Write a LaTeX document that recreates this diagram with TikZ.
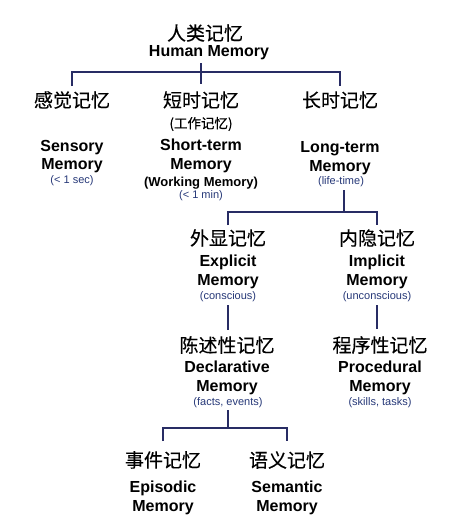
\documentclass[tikz,border=0pt]{standalone}
\usepackage{fontspec}
\setmainfont{Liberation Sans}
\newfontfamily\zhfont[FakeBold=0.3]{Noto Sans CJK SC}
\usepackage{tikz}
\usetikzlibrary{calc}
\definecolor{linecol}{RGB}{40,44,100}
\definecolor{notecol}{RGB}{38,56,120}
\tikzset{
  zh/.style={font=\zhfont\fontsize{19}{19}\selectfont, inner sep=1pt},
  zhsmall/.style={font=\zhfont\fontsize{13.5}{14}\selectfont, inner sep=1pt},
  en/.style={font=\bfseries\fontsize{16}{18.5}\selectfont, align=center, inner sep=1pt},
  ensmall/.style={font=\bfseries\fontsize{13}{13}\selectfont, inner sep=1pt},
  note/.style={font=\fontsize{11}{12}\selectfont, text=notecol, inner sep=1pt},
  link/.style={draw=linecol, line width=1.3pt}
}

\begin{document}
\begin{tikzpicture}[x=1pt, y=-1pt]
    \fill[white] (0,0) rectangle (476,517);
    \useasboundingbox (0,0) rectangle (476,517);
    \node[zh] (human) at (205,33) {人类记忆};
    \node[en] (humanE) at (209,53) {Human Memory};
    \node[zh] (sensZ) at (72,100) {感觉记忆};
    \node[en] (sensE) at (72,156.5) {Sensory\\Memory};
    \node[note] (sensN) at (72,181) {(< 1 sec)};
    \node[zh] (shortZ) at (201,100) {短时记忆};
    \node[zhsmall] (shortP) at (201,124) {(工作记忆)};
    \node[en] (shortE) at (201,156) {Short-term\\Memory};
    \node[ensmall] (shortW) at (201,183) {(Working Memory)};
    \node[note] (shortN) at (201,195.5) {(< 1 min)};
    \node[zh] (longZ) at (340,100) {长时记忆};
    \node[en] (longE) at (340,158) {Long-term\\Memory};
    \node[note] (longN) at (341,181.5) {(life-time)};
    \node[zh] (explZ) at (228,238) {外显记忆};
    \node[en] (explE) at (228,272) {Explicit\\Memory};
    \node[note] (explN) at (228,296.5) {(conscious)};
    \node[zh] (implZ) at (377,238) {内隐记忆};
    \node[en] (implE) at (377,272) {Implicit\\Memory};
    \node[note] (implN) at (377,296.5) {(unconscious)};
    \node[zh] (declZ) at (227,345) {陈述性记忆};
    \node[en] (declE) at (227,378) {Declarative\\Memory};
    \node[note] (declN) at (228,402.5) {(facts, events)};
    \node[zh] (procZ) at (380,345) {程序性记忆};
    \node[en] (procE) at (380,378) {Procedural\\Memory};
    \node[note] (procN) at (380,402.5) {(skills, tasks)};
    \node[zh] (episZ) at (163,460) {事件记忆};
    \node[en] (episE) at (163,498) {Episodic\\Memory};
    \node[zh] (semZ) at (287,460) {语义记忆};
    \node[en] (semE) at (287,498) {Semantic\\Memory};
    \draw[link] (shortZ |- 0,63) -- (shortZ |- 0,84);
    \draw[link] (sensZ |- 0,86) -- (sensZ |- 0,72) -- (longZ |- 0,72) -- (longZ |- 0,86);
    \draw[link] ([xshift=3]longN.south |- 0,190) -- ([xshift=3]longN.south |- 0,212);
    \draw[link] (explZ |- 0,225) -- (explZ |- 0,212) -- (implZ |- 0,212) -- (implZ |- 0,225);
    \draw[link] (explN |- 0,305) -- (explN |- 0,330);
    \draw[link] (implN |- 0,305) -- (implN |- 0,329);
    \draw[link] (declN |- 0,410) -- (declN |- 0,428);
    \draw[link] (episZ |- 0,441) -- (episZ |- 0,428) -- (semZ |- 0,428) -- (semZ |- 0,441);
\end{tikzpicture}
\end{document}
